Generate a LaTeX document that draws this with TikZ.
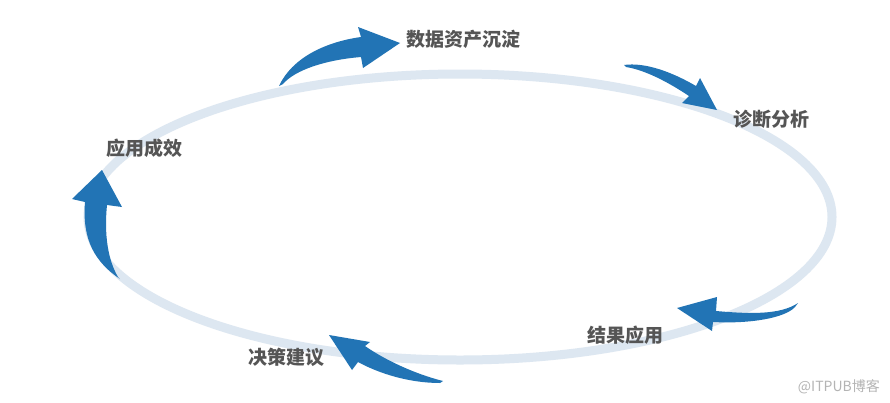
\documentclass[tikz,border=0pt]{standalone}
\usepackage{fontspec}
\newfontfamily\cjk{Noto Sans CJK SC}
\definecolor{arrowblue}{HTML}{2274B5}
\definecolor{ringblue}{HTML}{DDE7F1}
\definecolor{labelgray}{HTML}{555555}
\definecolor{markgray}{HTML}{B4B4B4}
\tikzset{
  ring/.style={draw=ringblue, line width=9pt},
  bigarrow/.style={fill=arrowblue, draw=none},
  steplabel/.style={font=\cjk\bfseries\fontsize{19}{22}\selectfont, text=labelgray, inner sep=0pt},
  watermark/.style={font=\cjk\fontsize{14}{16}\selectfont, text=markgray, inner sep=0pt}
}
\begin{document}
\begin{tikzpicture}[x=1pt,y=-1pt]
\useasboundingbox[fill=white] (0,0) rectangle (890,402);
% ring
\draw[ring] (460,217) ellipse [x radius=372pt, y radius=143pt];
% arrow 1 (top)
\fill[bigarrow] (279,86) .. controls (292,58) and (325,42) .. (361,37) -- (358,27) -- (400,43) -- (363,68) -- (361,57) .. controls (325,60) and (295,70) .. (283,84) -- cycle;
% arrow 2 (top right)
\fill[bigarrow] (624,65) .. controls (645,62) and (672,72) .. (696,86) -- (700,78) -- (717,110) -- (682,103) -- (689,96) .. controls (668,82) and (645,70) .. (626,67) -- cycle;
% arrow 3 (left)
\fill[bigarrow] (120,279) .. controls (95,262) and (82,240) .. (85,202) -- (72,199) -- (102,170) -- (122,207) -- (107,205) .. controls (104,235) and (108,260) .. (118,277) -- cycle;
% arrow 4 (bottom right)
\fill[bigarrow] (798,303) .. controls (780,315) and (750,314) .. (716,311) -- (717,297) -- (677,308) -- (712,331) -- (713,322) .. controls (750,324) and (785,318) .. (795,307) -- cycle;
% arrow 5 (bottom left)
\fill[bigarrow] (443,381) .. controls (415,374) and (385,360) .. (365,346) -- (370,342) -- (329,335) -- (352,370) -- (358,362) .. controls (380,374) and (410,383) .. (440,383) -- cycle;
% labels
\node[steplabel] (asset) at (463,39) {数据资产沉淀};
\node[steplabel] (diag) at (771,119) {诊断分析};
\node[steplabel] (result) at (625,335) {结果应用};
\node[steplabel] (advice) at (286,357) {决策建议};
\node[steplabel] (effect) at (144,148) {应用成效};
\node[watermark, anchor=east] (mark) at (880,387) {@ITPUB博客};
\end{tikzpicture}
\end{document}
